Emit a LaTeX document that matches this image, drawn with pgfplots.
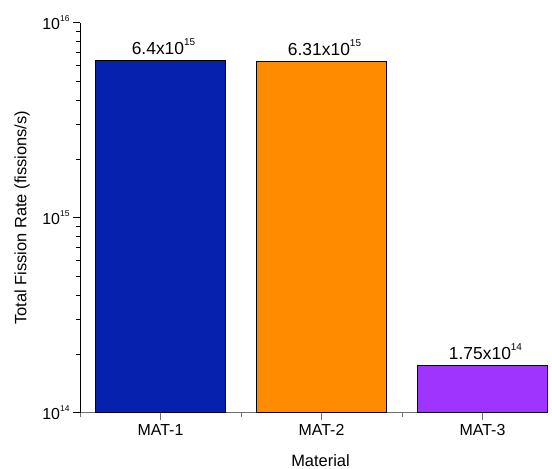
\documentclass[border=0pt]{standalone}
\usepackage{pgfplots}
\pgfplotsset{compat=1.18}
\usepackage{fontspec}
\setmainfont{Liberation Sans}
\definecolor{c1}{HTML}{0621AE}
\definecolor{c2}{HTML}{FF8C00}
\definecolor{c3}{HTML}{A034FF}
\definecolor{axgray}{HTML}{707070}
\newcommand{\tsup}[1]{\raisebox{0.9ex}{\fontsize{8.5}{8.5}\selectfont #1}}
\newcommand{\bsup}[1]{\raisebox{1.0ex}{\fontsize{10}{10}\selectfont #1}}
\begin{document}
\begin{tikzpicture}
\begin{axis}[
  name=ax, at={(0,0)}, anchor=south west,
  scale only axis, width=468bp, height=390bp,
  xmin=0.5, xmax=3.407, ymin=1e14, ymax=1e16,
  ymode=log, log origin=infty,
  axis x line*=bottom, axis y line*=left,
  axis line style={-},
  x axis line style={draw=axgray, line width=1.1pt},
  y axis line style={draw=black, line width=0.9pt},
  xtick={1,2,3}, xticklabels={MAT-1,MAT-2,MAT-3},
  minor xtick={0.5,1.5,2.5,3.5},
  ytick={1e14,1e15,1e16},
  yticklabels={10\tsup{14},10\tsup{15},10\tsup{16}},
  minor ytick={2e14,3e14,4e14,5e14,6e14,7e14,8e14,9e14,2e15,3e15,4e15,5e15,6e15,7e15,8e15,9e15},
  tick align=outside,
  major tick length=7bp, minor tick length=4bp,
  xtick style={draw=axgray, line width=0.9pt},
  ytick style={draw=black, line width=0.9pt},
  xticklabel style={font=\fontsize{16}{19}\selectfont, yshift=-1bp},
  yticklabel style={font=\fontsize{16}{19}\selectfont},
  label style={font=\fontsize{16.5}{20}\selectfont},
  xlabel={Material}, ylabel={Total Fission Rate (fissions/s)},
  xlabel style={at={(axis description cs:0.5,0)}, anchor=center, xshift=6.5bp, yshift=-48bp},
  ylabel style={at={(axis description cs:0,0.5)}, anchor=center, yshift=58bp},
  ybar, bar width=0.81, bar shift=0pt,
  point meta=explicit symbolic,
  nodes near coords,
  every node near coord/.append style={font=\fontsize{17.5}{20}\selectfont, anchor=south, yshift=2bp, xshift=3bp},
  clip=false,
]
\addplot[draw=black, line width=0.8pt, fill=c1] coordinates {(1,6.4e15) [6.4x10\bsup{15}]};
\addplot[draw=black, line width=0.8pt, fill=c2] coordinates {(2,6.31e15) [6.31x10\bsup{15}]};
\addplot[draw=black, line width=0.8pt, fill=c3] coordinates {(3,1.75e14) [1.75x10\bsup{14}]};
\end{axis}
\pgfresetboundingbox
\path ([shift={(-80bp,-56bp)}]ax.south west) rectangle ([shift={(4bp,22.7bp)}]ax.north east);
\end{tikzpicture}
\end{document}
